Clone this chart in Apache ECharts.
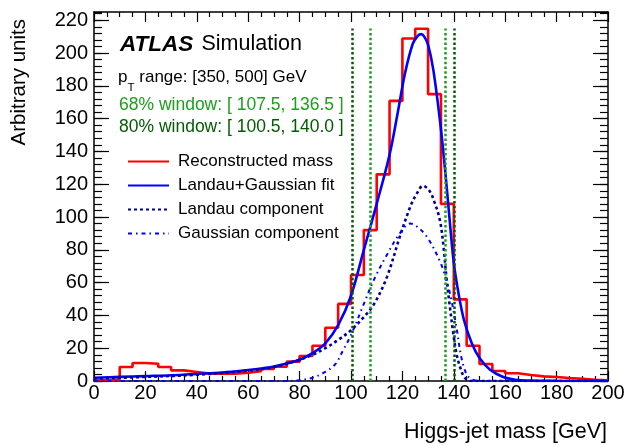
<!DOCTYPE html>
<html>
<head>
<meta charset="utf-8">
<script src="https://cdn.jsdelivr.net/npm/echarts@6/dist/echarts.min.js"></script>
<style>
html,body{margin:0;padding:0;background:#fff;}
#chart{width:627px;height:446px;}
</style>
</head>
<body>
<div id="chart"></div>
<script>
// ---- data ----
const binEdges = [0,5,10,15,20,25,30,35,40,45,50,55,60,65,70,75,80,85,90,95,100,105,110,115,120,125,130,135,140,145,150,155,160,165,170,175,180,185,190,195];
const binUpper = 200;
const histValues = [0.5,1,8.5,11,10.5,8.5,6.5,5.5,4.5,4.5,4.5,5,6,7.3,8.7,11.8,15.2,21.5,32.5,47,64.6,92,126,170.8,208.8,214.8,174.9,108,49.8,21.5,10.4,6.1,4.7,3.7,2.8,2.4,1.8,1.4,0.8,0.5];

const fitX = [0,10,20,30,40,50,60,65,70,75,80,85,90,95,100,105,110,115,118,121,124,126,127.3,128.5,130,132,134.6,136.6,138,140,142,144,147,150,154,159,164,170,180,200];
const fitY = [2,2.5,3,3.5,4.3,5.2,6.7,7.6,8.8,10.6,13,17,23,34,52,80,108,138,162,187.5,205.5,210.5,211.5,210,205,190,159,129,105,72,52,37,23,14,7,2.6,0.8,0.2,0.05,0];

const landauX = [0,20,40,60,70,80,85,90,95,100,105,109,114,119,123,125.5,128,130.5,132.5,134.6,136,137.2,138.5,139.8,141,142.4,144,145.5,148,160,180,200];
const landauY = [1.5,2.5,3.8,6.3,8.5,13,16,20,25,31,39,47,63.5,88,106,114,119,116,109,98,82,62,45,29,17,8.7,2.5,0.5,0,0,0,0];

const gaussX = [0,40,75,80,85,90,94,97,100,105,109,114,119,123,125,129.5,134.6,137.2,139,141,143,145,147,150,160,180,200];
const gaussY = [0,0,0,0.5,2,5.5,10.5,19,28,47,62,77,90,96,95,88,73,61,50,33,14,4,1,0,0,0,0];

const window68 = [107.5, 136.5];
const window80 = [100.5, 140.0];
const windowTop = 215;

const xTicks = {min:0, max:200, interval:20};
const yTicks = {min:0, max:225, interval:20, minor:4};

const legendNames = ['Reconstructed mass','Landau+Gaussian fit','Landau component','Gaussian component'];
const xTitle = 'Higgs-jet mass [GeV]';
const yTitle = 'Arbitrary units';

// ---- build ----
const FONT = 'Liberation Sans, Arial, Helvetica, sans-serif';
const histData = binEdges.map((x,i)=>[x,histValues[i]]);
histData.push([binUpper, histValues[histValues.length-1]]);
const pair = (xs,ys)=>xs.map((x,i)=>[x,ys[i]]);

const c68 = '#1aa01a', c80 = '#005c00';
function vline(x,color){
  return [{coord:[x,0], lineStyle:{color:color,width:2.5,type:[2.5,2.3]}},{coord:[x,windowTop]}];
}

const baseX = {
  type:'value', min:xTicks.min, max:xTicks.max, interval:xTicks.interval,
  axisLine:{show:true, onZero:false, lineStyle:{color:'#000', width:1.5}},
  axisTick:{show:true, inside:true, length:10, lineStyle:{color:'#000', width:1.2}},
  minorTick:{show:true, splitNumber:4, length:5, lineStyle:{color:'#000', width:1.2}},
  splitLine:{show:false}, minorSplitLine:{show:false}
};
function yAx(pos, interval, len, labels, line){
  return {
    type:'value', position:pos, min:yTicks.min, max:yTicks.max, interval:interval, offset:0,
    axisLine:{show:line, onZero:false, lineStyle:{color:'#000', width:1.5}},
    axisTick:{show:true, inside:true, length:len, lineStyle:{color:'#000', width:1.2}},
    axisLabel:{show:labels, fontSize:20, color:'#000', fontFamily:FONT, margin:6, showMaxLabel:false},
    splitLine:{show:false}
  };
}

const chart = echarts.init(document.getElementById('chart'), null, {renderer:'canvas'});

chart.setOption({
  animation:false,
  backgroundColor:'#fff',
  grid:{left:94, right:19, top:12, bottom:65, containLabel:false, outerBoundsMode:'none'},
  xAxis:[
    Object.assign({}, baseX, {
      position:'bottom',
      axisLabel:{show:true, fontSize:20, color:'#000', fontFamily:FONT, margin:2, showMaxLabel:true, showMinLabel:true, hideOverlap:false}
    }),
    Object.assign({}, baseX, {position:'top', axisLabel:{show:false}})
  ],
  yAxis:[
    yAx('left', yTicks.interval, 15, true, true),
    yAx('left', yTicks.minor, 8, false, false),
    yAx('right', yTicks.interval, 15, false, true),
    yAx('right', yTicks.minor, 8, false, false)
  ],
  legend:{
    orient:'vertical', left:127, top:151.5, padding:0,
    itemWidth:41, itemHeight:20, itemGap:4, selectedMode:false,
    itemStyle:{color:'rgba(0,0,0,0)', borderWidth:0, opacity:0},
    textStyle:{fontSize:17, color:'#000', fontFamily:FONT, lineHeight:20, padding:[0,0,0,4]},
    data:legendNames
  },
  series:[
    {
      type:'line', name:'windows', data:[], silent:true,
      markLine:{
        silent:true, symbol:['none','none'], label:{show:false}, animation:false,
        data:[vline(window80[0],c80), vline(window68[0],c68), vline(window68[1],c68), vline(window80[1],c80)]
      }
    },
    {
      type:'line', name:legendNames[0], data:histData, step:'end', symbol:'none', showSymbol:false,
      lineStyle:{color:'#ff0000', width:2.6}, itemStyle:{color:'#ff0000'}
    },
    {
      type:'line', name:legendNames[1], data:pair(fitX,fitY), smooth:0.35, symbol:'none', showSymbol:false,
      lineStyle:{color:'#0000ff', width:2.6}, itemStyle:{color:'#0000ff'}
    },
    {
      type:'line', name:legendNames[2], data:pair(landauX,landauY), smooth:0.35, symbol:'none', showSymbol:false,
      lineStyle:{color:'#000099', width:2.6, type:[3,3]}, itemStyle:{color:'#000099'}
    },
    {
      type:'line', name:legendNames[3], data:pair(gaussX,gaussY), smooth:0.35, symbol:'none', showSymbol:false,
      lineStyle:{color:'#0000ff', width:2, type:[4,4,1.5,4]}, itemStyle:{color:'#0000ff'}
    }
  ],
  graphic:[
    {type:'text', x:120, y:44.5, style:{text:'ATLAS', fontSize:22.5, fontWeight:'bold', fontStyle:'italic', fontFamily:FONT, fill:'#000', textVerticalAlign:'middle'}},
    {type:'text', x:201.5, y:44.5, style:{text:'Simulation', fontSize:21.5, fontFamily:FONT, fill:'#000', textVerticalAlign:'middle'}},
    {type:'text', x:118, y:77, style:{text:'p', fontSize:17, fontFamily:FONT, fill:'#000', textVerticalAlign:'middle'}},
    {type:'text', x:127.5, y:88, style:{text:'T', fontSize:11.5, fontFamily:FONT, fill:'#000', textVerticalAlign:'middle'}},
    {type:'text', x:139.3, y:77, style:{text:'range: [350, 500] GeV', fontSize:17, fontFamily:FONT, fill:'#000', textVerticalAlign:'middle'}},
    {type:'text', x:119, y:105, style:{text:'68% window: [ ' + window68[0].toFixed(1) + ', ' + window68[1].toFixed(1) + ' ]', fontSize:17.5, fontFamily:FONT, fill:c68, textVerticalAlign:'middle'}},
    {type:'text', x:119, y:127.5, style:{text:'80% window: [ ' + window80[0].toFixed(1) + ', ' + window80[1].toFixed(1) + ' ]', fontSize:17.5, fontFamily:FONT, fill:c80, textVerticalAlign:'middle'}},
    {type:'text', x:607, y:432, style:{text:xTitle, fontSize:21.5, fontFamily:FONT, fill:'#000', textAlign:'right', textVerticalAlign:'middle'}},
    {type:'text', x:19, y:19, rotation:Math.PI/2, style:{text:yTitle, fontSize:20.5, fontFamily:FONT, fill:'#000', textAlign:'right', textVerticalAlign:'middle'}}
  ]
});
</script>
</body>
</html>
